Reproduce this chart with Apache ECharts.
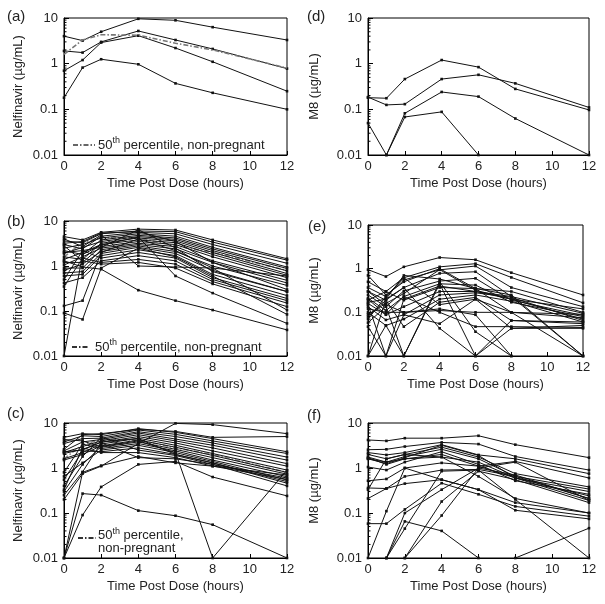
<!DOCTYPE html>
<html><head><meta charset="utf-8">
<script src="https://cdn.jsdelivr.net/npm/echarts@6/dist/echarts.min.js"></script>
<style>html,body{margin:0;padding:0;background:#fff}#c{width:605px;height:604px}</style>
</head><body><div id="c"></div>
<script>
const times = [0, 1, 2, 4, 6, 8, 12];
const xTickLabels = ['0', '2', '4', '6', '8', '10', '12'];
const yTickLabels = ['0.01', '0.1', '1', '10'];
const minorTickValues = [0.02,0.03,0.04,0.05,0.06,0.07,0.08,0.09,0.2,0.3,0.4,0.5,0.6,0.7,0.8,0.9,2,3,4,5,6,7,8,9];
const panelLetters = ['(a)', '(b)', '(c)', '(d)', '(e)', '(f)'];
const yTitles = ['Nelfinavir (\u00b5g/mL)', 'Nelfinavir (\u00b5g/mL)', 'Nelfinavir (\u00b5g/mL)', 'M8 (\u00b5g/mL)', 'M8 (\u00b5g/mL)', 'M8 (\u00b5g/mL)'];
const xTitle = 'Time Post Dose (hours)';
const legendText = '50th percentile, non-pregnant';

const percentile50 = [1.6, 3.3, 4.3, 4.2, 2.8, 2.0, 0.8];

const panelA = [
  [4.0, 3.2, 5.0, 9.6, 8.9, 6.3, 3.3],
  [1.9, 1.75, 3.0, 5.2, 3.3, 2.1, 0.78],
  [0.7, 1.2, 2.9, 4.1, 2.2, 1.1, 0.25],
  [0.18, 0.82, 1.25, 0.97, 0.37, 0.23, 0.1]
];
const panelB = [
  [4.5, 3.8, 5.6, 6.6, 6.3, 3.8, 1.45],
  [3.6, 3.3, 5.2, 6.0, 5.8, 3.4, 1.35],
  [3.0, 2.4, 4.6, 5.6, 5.2, 3.0, 1.15],
  [2.5, 3.0, 4.2, 5.2, 4.6, 2.6, 0.95],
  [2.2, 1.8, 3.8, 4.8, 4.2, 2.4, 0.88],
  [1.9, 2.6, 3.5, 4.5, 3.9, 2.2, 0.78],
  [1.6, 1.4, 3.2, 4.2, 3.6, 2.0, 0.68],
  [1.4, 2.0, 3.0, 3.8, 3.3, 1.8, 0.62],
  [1.2, 1.2, 2.7, 3.5, 3.0, 1.6, 0.55],
  [1.05, 1.6, 2.5, 3.2, 2.7, 1.3, 0.48],
  [0.9, 0.9, 2.3, 3.0, 2.4, 1.2, 0.42],
  [0.8, 1.1, 2.1, 2.8, 2.1, 1.0, 0.37],
  [0.7, 0.75, 1.9, 2.6, 1.9, 0.8, 0.27],
  [0.6, 0.65, 1.7, 2.3, 1.7, 0.65, 0.22],
  [0.5, 2.2, 1.5, 2.0, 1.5, 0.55, 0.19],
  [0.42, 0.55, 1.3, 1.7, 1.3, 0.5, 0.17],
  [0.35, 1.5, 1.2, 1.4, 1.1, 0.45, 0.15],
  [2.8, 1.3, 1.1, 1.2, 0.9, 0.4, 0.125],
  [1.3, 0.95, 0.85, 0.29, 0.17, 0.105, 0.038],
  [0.13, 0.17, 2.0, 4.0, 2.2, 0.9, 0.105],
  [0.09, 0.065, 0.9, 2.5, 1.6, 0.6, 0.084],
  [0.01, 1.8, 2.9, 4.4, 0.6, 0.25, 0.053],
  [4.0, 2.7, 4.9, 1.0, 0.95, 0.9, 0.6],
  [3.2, 3.5, 5.4, 5.8, 3.5, 1.2, 0.3],
  [2.0, 2.2, 2.6, 6.4, 2.5, 0.75, 0.27]
];
const panelC = [
  [4.8, 5.8, 5.5, 7.5, 6.2, 4.5, 2.3],
  [3.8, 5.2, 5.0, 7.0, 5.6, 4.0, 2.1],
  [3.5, 4.5, 4.6, 6.4, 5.0, 3.6, 1.75],
  [2.4, 3.8, 4.3, 6.0, 4.4, 3.2, 1.5],
  [2.2, 3.0, 4.0, 5.5, 4.0, 2.8, 1.25],
  [2.1, 2.6, 3.7, 5.0, 3.6, 2.4, 1.1],
  [1.6, 2.2, 3.4, 4.6, 3.2, 2.1, 0.9],
  [1.5, 2.0, 3.1, 4.2, 2.9, 1.9, 0.8],
  [4.3, 4.0, 2.9, 3.8, 2.6, 1.7, 0.73],
  [0.8, 3.4, 2.7, 3.5, 2.4, 1.5, 0.64],
  [0.65, 1.3, 2.5, 3.2, 2.2, 1.4, 0.54],
  [0.55, 2.4, 2.3, 2.8, 2.0, 1.3, 0.46],
  [0.4, 1.8, 4.8, 2.5, 1.9, 1.2, 0.4],
  [0.33, 2.8, 2.2, 2.2, 1.7, 1.1, 0.56],
  [0.25, 0.82, 3.6, 1.7, 1.6, 1.2, 0.6],
  [0.01, 0.09, 0.38, 1.2, 1.4, 0.63, 0.24],
  [0.01, 0.27, 0.25, 0.113, 0.087, 0.055, 0.01],
  [0.2, 0.75, 1.1, 3.5, 9.8, 9.2, 5.8],
  [0.3, 1.2, 3.0, 4.0, 2.2, 0.01, 0.9],
  [2.6, 5.5, 5.8, 7.2, 6.5, 4.8, 5.0],
  [2.3, 2.5, 3.8, 4.5, 2.0, 1.3, 0.5],
  [0.01, 0.8, 1.13, 1.8, 1.3, 1.1, 0.7]
];
const panelD = [
  [0.18, 0.175, 0.46, 1.2, 0.84, 0.28, 0.097],
  [0.185, 0.125, 0.13, 0.46, 0.57, 0.37, 0.11],
  [0.05, 0.01, 0.082, 0.24, 0.19, 0.063, 0.01],
  [null, 0.01, 0.068, 0.088, 0.01, null, null]
];
const panelE = [
  [0.95, 0.66, 1.1, 1.8, 1.6, 0.81, 0.25],
  [0.5, 0.3, 0.62, 1.1, 1.3, 0.63, 0.165],
  [0.37, 0.23, 0.55, 0.94, 1.15, 0.37, 0.135],
  [0.3, 0.19, 0.37, 0.78, 0.85, 0.23, 0.095],
  [0.25, 0.135, 0.31, 0.52, 0.6, 0.19, 0.085],
  [0.21, 0.11, 0.23, 0.45, 0.42, 0.17, 0.08],
  [0.19, 0.3, 0.19, 0.37, 0.35, 0.1, 0.075],
  [0.16, 0.088, 0.135, 0.3, 0.3, 0.2, 0.07],
  [0.135, 0.067, 0.088, 0.25, 0.28, 0.22, 0.065],
  [0.1, 0.05, 0.07, 0.2, 0.25, 0.18, 0.06],
  [0.08, 0.19, 0.047, 0.17, 0.22, 0.065, 0.055],
  [0.07, 0.23, 0.62, 0.15, 0.2, 0.043, 0.05],
  [0.058, 0.135, 0.01, 0.45, 0.01, 0.043, 0.043],
  [0.047, 0.01, 0.2, 0.4, 0.3, 0.23, 0.01],
  [0.01, 0.2, 0.37, 0.043, 0.01, 0.065, 0.06],
  [0.01, 0.05, 0.01, 0.5, 0.036, 0.01, null],
  [0.15, 0.01, 0.088, 0.055, 0.2, 0.1, 0.01],
  [0.3, 0.15, 0.1, 0.12, 0.088, 0.01, null],
  [0.2, 0.09, 0.23, 0.1, 0.047, 0.047, 0.045],
  [0.12, 0.1, 0.1, 0.11, 0.1, 0.1, 0.09],
  [0.7, 0.25, 0.5, 1.0, 0.35, 0.3, 0.1],
  [0.17, 0.2, 0.7, 0.58, 0.35, 0.25, 0.01],
  [0.09, 0.16, 0.27, 0.95, 0.32, 0.2, 0.12]
];
const panelF = [
  [4.2, 4.0, 4.6, 4.6, 5.2, 3.3, 1.7],
  [2.55, 2.6, 3.0, 3.7, 3.4, 1.8, 0.9],
  [2.2, 1.95, 2.2, 3.3, 1.95, 1.6, 0.75],
  [2.0, 1.6, 2.0, 2.9, 1.75, 0.75, 0.38],
  [1.75, 1.35, 1.8, 2.6, 1.6, 0.65, 0.34],
  [1.6, 1.35, 1.6, 1.75, 1.35, 0.6, 0.3],
  [1.05, 0.9, 1.35, 2.3, 1.2, 0.52, 0.26],
  [0.52, 0.57, 1.0, 1.3, 1.1, 0.6, 0.24],
  [0.36, 0.35, 0.65, 0.9, 0.93, 0.65, 0.21],
  [0.33, 1.6, 2.0, 1.75, 0.65, 0.21, 0.1],
  [0.21, 0.35, 0.45, 0.55, 0.33, 0.17, 0.1],
  [0.058, 0.058, 0.12, 0.46, 0.26, 0.14, 0.085],
  [0.01, 0.11, 1.0, 0.55, 0.33, 0.115, 0.074],
  [null, 0.01, 0.065, 0.04, 0.01, null, null],
  [null, 0.01, 0.1, 0.33, 1.0, 1.35, 0.19],
  [null, null, 0.01, 0.18, 0.85, 0.55, 0.17],
  [null, null, 0.01, 0.088, 1.0, 0.7, 0.21],
  [null, 0.01, 0.045, 0.85, 0.9, 0.2, 0.01],
  [1.6, 1.25, 1.7, 3.2, 1.9, 0.6, 0.19],
  [1.7, 1.2, 1.6, 2.0, 1.1, 1.4, 0.6],
  [null, null, null, null, null, 0.01, 0.046]
];

const panels = [panelA, panelB, panelC, panelD, panelE, panelF];
const grids = [
  {left: 64, top: 18, width: 223, height: 137},
  {left: 64, top: 221, width: 223, height: 135},
  {left: 64, top: 423, width: 223, height: 135},
  {left: 368, top: 18, width: 221, height: 137},
  {left: 368, top: 225, width: 215, height: 131},
  {left: 368, top: 423, width: 221, height: 135}
];
const yNameGaps = [39, 39, 39, 47, 47, 47];
const FONT = 'Liberation Sans, Arial, Helvetica, sans-serif';

function toPairs(vals) {
  const out = [];
  vals.forEach((v, i) => { if (v !== null && v !== undefined) out.push([times[i], v]); });
  return out;
}

const xAxes = grids.map((g, i) => ({
  type: 'value', gridIndex: i, min: 0, max: 12, interval: 2,
  name: xTitle, nameLocation: 'middle', nameGap: 22,
  nameTextStyle: {fontSize: 13, fontFamily: FONT, color: '#222'},
  axisLine: {show: true, lineStyle: {color: '#000', width: 1}},
  axisTick: {show: true, inside: true, length: 4, lineStyle: {color: '#000'}},
  axisLabel: {fontSize: 13, fontFamily: FONT, color: '#222', margin: 5,
    formatter: v => xTickLabels[Math.round(v / 2)] || ''},
  splitLine: {show: false}
}));
const yAxes = grids.map((g, i) => ({
  type: 'log', logBase: 10, gridIndex: i, min: 0.01, max: 10,
  name: yTitles[i], nameLocation: 'middle', nameGap: yNameGaps[i],
  nameTextStyle: {fontSize: 13, fontFamily: FONT, color: '#222'},
  axisLine: {show: true, lineStyle: {color: '#000', width: 1}},
  axisTick: {show: true, inside: true, length: 5, lineStyle: {color: '#000'}},
  axisLabel: {fontSize: 13, fontFamily: FONT, color: '#222', margin: 6,
    formatter: v => {
      const l = yTickLabels.find(s => Math.abs(Math.log10(parseFloat(s)) - Math.log10(v)) < 1e-6);
      return l || '';
    }},
  splitLine: {show: false}
}));

const series = [];
panels.forEach((lines, p) => {
  if (p === 0 || p === 1 || p === 2) {
    series.push({
      type: 'line', xAxisIndex: p, yAxisIndex: p, data: toPairs(percentile50),
      symbol: 'none', silent: true, z: p === 0 ? 4 : 1,
      lineStyle: {color: p === 0 ? '#777' : '#888', width: 1.6, type: [5, 2, 1.5, 2]}
    });
  }
  lines.forEach(vals => {
    series.push({
      type: 'line', xAxisIndex: p, yAxisIndex: p, data: toPairs(vals),
      symbol: 'rect', symbolSize: 2.6, showSymbol: true, silent: true, z: 2,
      lineStyle: {color: '#111', width: 1}, itemStyle: {color: '#111'}
    });
  });
  series.push({
    type: 'custom', xAxisIndex: p, yAxisIndex: p, silent: true, z: 5,
    data: minorTickValues.map(v => [0, v]),
    renderItem: (params, api) => {
      const pt = api.coord([0, api.value(1)]);
      return {type: 'line', shape: {x1: pt[0], y1: pt[1], x2: pt[0] + 2.5, y2: pt[1]},
        style: {stroke: '#000', lineWidth: 1}};
    }
  });
});

const labelPos = [[7, 17], [7, 222], [7, 414], [307, 17], [308, 227], [307, 416]];
const graphic = [];
panelLetters.forEach((t, i) => {
  graphic.push({type: 'text', x: labelPos[i][0], y: labelPos[i][1],
    style: {text: t, fontSize: 15, fontFamily: FONT, fill: '#222', verticalAlign: 'middle'}});
});
const rich = {s: {fontSize: 9, fontFamily: FONT, fill: '#222', padding: [0, 0, 8, 0]}};
const legendParts = legendText.split('th');
function legend(x1, x2, y, tx, ty, twoLines, color) {
  graphic.push({type: 'line', shape: {x1: x1, y1: y, x2: x2, y2: y},
    style: {stroke: color, lineWidth: 2, lineDash: [5, 2, 1.5, 2]}});
  const rest = legendParts[1];
  const txt = twoLines ? legendParts[0] + '{s|th}' + rest.replace(', ', ',\n') : legendParts[0] + '{s|th}' + rest;
  graphic.push({type: 'text', x: tx, y: ty, style: {text: txt, rich: rich, fontSize: 13, fontFamily: FONT,
    fill: '#222', verticalAlign: twoLines ? 'top' : 'middle', lineHeight: 13}});
}
legend(73, 95, 145, 98, 145, false, '#666');
legend(72, 88, 347, 95, 347, false, '#333');
legend(78, 96, 538, 98, 529, true, '#333');

const chart = echarts.init(document.getElementById('c'), null, {renderer: 'canvas'});
chart.setOption({
  animation: false,
  backgroundColor: '#fff',
  grid: grids.map(g => Object.assign({show: true, borderColor: '#000', borderWidth: 1, backgroundColor: 'transparent'}, g)),
  xAxis: xAxes,
  yAxis: yAxes,
  series: series,
  graphic: graphic
});
</script></body></html>
